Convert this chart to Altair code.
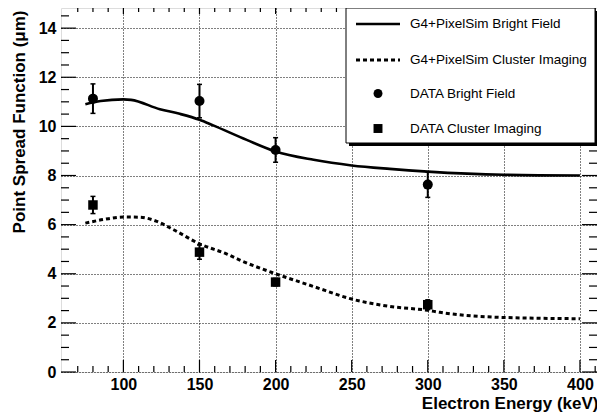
import altair as alt
import pandas as pd

# ---- data ----
energy_data = [80, 150, 200, 300]
bright_data = [11.13, 11.03, 9.04, 7.63]
bright_err = [0.60, 0.68, 0.50, 0.52]
cluster_data = [6.80, 4.88, 3.66, 2.74]
cluster_err = [0.35, 0.29, 0.15, 0.20]

sim_bright_x = [75, 85, 100, 105, 124, 137, 150, 159, 181, 200, 225, 250, 275, 300, 350, 400]
sim_bright_y = [10.90, 11.03, 11.10, 11.08, 10.70, 10.51, 10.27, 10.04, 9.45, 8.98, 8.64, 8.41, 8.27, 8.16, 8.03, 8.00]
sim_cluster_x = [75, 88, 100, 111, 122, 133, 150, 168, 177.5, 200, 225, 250, 275, 300, 308, 350, 400]
sim_cluster_y = [6.06, 6.22, 6.31, 6.30, 6.13, 5.79, 5.22, 4.80, 4.53, 4.00, 3.48, 2.97, 2.67, 2.51, 2.43, 2.22, 2.17]

legend_labels = ["G4+PixelSim Bright Field", "G4+PixelSim Cluster Imaging",
                 "DATA Bright Field", "DATA Cluster Imaging"]

x_major = [100, 150, 200, 250, 300, 350, 400]
x_minor = [v for v in range(70, 411, 10) if v not in x_major]
y_major = [0, 2, 4, 6, 8, 10, 12, 14]
y_minor = [v / 2 for v in range(1, 30) if v % 4 != 0]

x_title = "Electron Energy (keV)"
y_title = "Point Spread Function (\u03bcm)"

# ---- layout ----
W, H = 536, 364
FONT = "Liberation Sans"

x_scale = alt.Scale(domain=[59, 411.2], nice=False, zero=False)
y_scale = alt.Scale(domain=[0, 14.82], nice=False, zero=False)

x_axis = alt.Axis(values=x_major, grid=True, gridDash=[1, 2], gridColor="black", gridWidth=1,
                  ticks=False, domain=False, labelFont=FONT, labelFontSize=16,
                  labelFontWeight="bold", labelColor="black", labelPadding=4, labelFlush=False,
                  title=x_title, titleFont=FONT, titleFontSize=17, titleFontWeight="bold",
                  titleColor="black", titleAnchor="end", titleAlign="right", titleX=W + 1,
                  titleY=36, titleBaseline="alphabetic")
y_axis = alt.Axis(values=y_major, grid=True, gridDash=[1, 2], gridColor="black", gridWidth=1,
                  ticks=False, domain=False, labelFont=FONT, labelFontSize=16,
                  labelFontWeight="bold", labelColor="black", labelPadding=5, labelFlush=False,
                  title=y_title, titleFont=FONT, titleFontSize=17, titleFontWeight="bold",
                  titleColor="black", titleAngle=270, titleX=-42, titleY=2,
                  titleAlign="right", titleBaseline="middle", titleAnchor="end")


def X(f):
    return alt.X(f"{f}:Q", scale=x_scale, axis=x_axis)


def Y(f):
    return alt.Y(f"{f}:Q", scale=y_scale, axis=y_axis)


data_df = pd.DataFrame({
    "e": energy_data,
    "b": bright_data, "b_lo": [v - e for v, e in zip(bright_data, bright_err)],
    "b_hi": [v + e for v, e in zip(bright_data, bright_err)],
    "c": cluster_data, "c_lo": [v - e for v, e in zip(cluster_data, cluster_err)],
    "c_hi": [v + e for v, e in zip(cluster_data, cluster_err)],
})
sim_b = pd.DataFrame({"e": sim_bright_x, "v": sim_bright_y})
sim_c = pd.DataFrame({"e": sim_cluster_x, "v": sim_cluster_y})
dummy = pd.DataFrame({"d": [0]})

layers = []
# simulation curves
layers.append(alt.Chart(sim_b).mark_line(interpolate="monotone", color="black", strokeWidth=2.6)
              .encode(x=X("e"), y=Y("v")))
layers.append(alt.Chart(sim_c).mark_line(interpolate="monotone", color="black", strokeWidth=3,
                                          strokeDash=[4, 3], strokeCap="butt")
              .encode(x=X("e"), y=Y("v")))
# error bars
for lo, hi in (("b_lo", "b_hi"), ("c_lo", "c_hi")):
    layers.append(alt.Chart(data_df).mark_rule(color="black", strokeWidth=2)
                  .encode(x=X("e"), y=Y(lo), y2=alt.Y2(hi)))
    for f in (lo, hi):
        layers.append(alt.Chart(data_df).mark_tick(color="black", orient="horizontal", size=5,
                                                   thickness=1.5, opacity=1)
                      .encode(x=X("e"), y=Y(f)))
# data points
layers.append(alt.Chart(data_df).mark_point(shape="circle", filled=True, size=100, color="black",
                                            opacity=1).encode(x=X("e"), y=Y("b")))
layers.append(alt.Chart(data_df).mark_point(shape="square", filled=True, size=90, color="black",
                                            opacity=1).encode(x=X("e"), y=Y("c")))

# inner tick marks (ROOT style)
xmaj = pd.DataFrame({"t": x_major})
xmin = pd.DataFrame({"t": x_minor})
ymaj = pd.DataFrame({"t": y_major})
ymin = pd.DataFrame({"t": y_minor})
for df, lb, lt in ((xmaj, 12, 6), (xmin, 6, 4)):
    layers.append(alt.Chart(df).mark_rule(color="black", strokeWidth=1.2)
                  .encode(x=X("t"), y=alt.value(H), y2=alt.value(H - lb)))
    layers.append(alt.Chart(df).mark_rule(color="black", strokeWidth=1.2)
                  .encode(x=X("t"), y=alt.value(0), y2=alt.value(lt)))
for df, ll in ((ymaj, 15), (ymin, 8)):
    layers.append(alt.Chart(df).mark_rule(color="black", strokeWidth=1.2)
                  .encode(y=Y("t"), x=alt.value(0), x2=alt.value(ll)))
    layers.append(alt.Chart(df).mark_rule(color="black", strokeWidth=1.2)
                  .encode(y=Y("t"), x=alt.value(W), x2=alt.value(W - ll)))

# legend box
LX0, LX1, LY0, LY1 = 285, W - 2, 0, 135
layers.append(alt.Chart(dummy).mark_rect(color="black")
              .encode(x=alt.value(LX0 + 3), x2=alt.value(LX1 + 3),
                      y=alt.value(LY0 + 3), y2=alt.value(LY1 + 3)))
layers.append(alt.Chart(dummy).mark_rect(fill="white", stroke="black", strokeWidth=1)
              .encode(x=alt.value(LX0), x2=alt.value(LX1), y=alt.value(LY0), y2=alt.value(LY1)))
rows = [16, 52, 85.5, 120.5]
layers.append(alt.Chart(dummy).mark_rule(color="black", strokeWidth=2.6)
              .encode(x=alt.value(295), x2=alt.value(339), y=alt.value(rows[0])))
layers.append(alt.Chart(dummy).mark_rule(color="black", strokeWidth=3, strokeDash=[4, 3])
              .encode(x=alt.value(295), x2=alt.value(339), y=alt.value(rows[1])))
layers.append(alt.Chart(dummy).mark_point(shape="circle", filled=True, size=80, color="black",
                                          opacity=1)
              .encode(x=alt.value(317), y=alt.value(rows[2])))
layers.append(alt.Chart(dummy).mark_point(shape="square", filled=True, size=80, color="black",
                                          opacity=1)
              .encode(x=alt.value(317), y=alt.value(rows[3])))
for lab, ry in zip(legend_labels, rows):
    layers.append(alt.Chart(dummy).mark_text(text=lab, font=FONT, fontSize=13.5, color="black",
                                             align="left", baseline="middle")
                  .encode(x=alt.value(349), y=alt.value(ry)))

chart = alt.layer(*layers).properties(
    width=W, height=H,
    autosize=alt.AutoSizeParams(type="none"),
    padding={"left": 53, "top": 0, "right": 0, "bottom": 42},
).configure_view(stroke="black", strokeWidth=2).configure(background="white")

chart.save("out.html", embed_options={"renderer": "svg", "actions": False})
